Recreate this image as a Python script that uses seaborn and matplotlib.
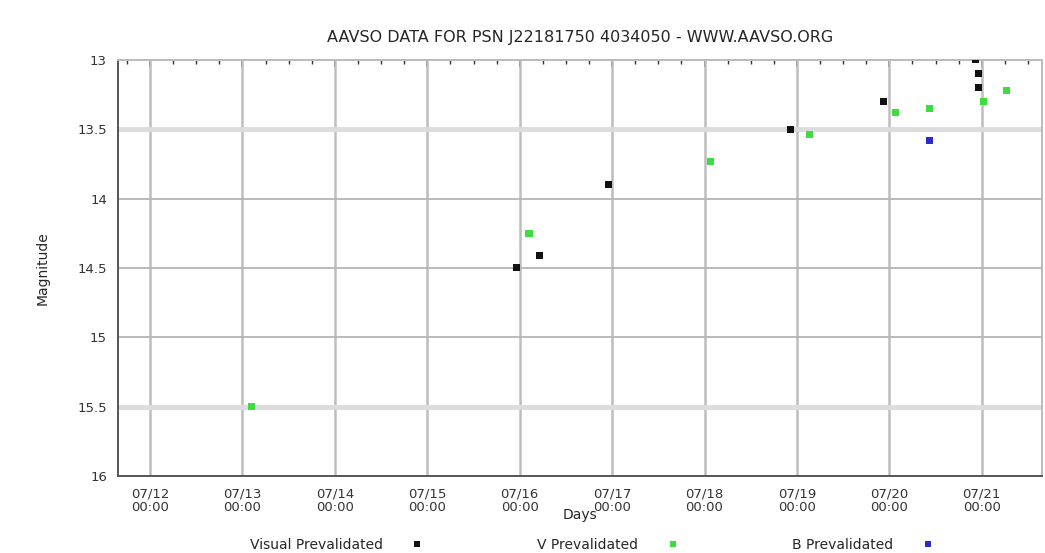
"""AAVSO light curve recreation (seaborn + matplotlib)."""
import matplotlib
matplotlib.use("Agg")
import matplotlib.pyplot as plt
import matplotlib.dates as mdates
import pandas as pd
import seaborn as sns

# observations: day of July (fractional) and magnitude
visual_day = [15.97, 16.21, 16.96, 18.93, 19.94, 20.93, 20.96, 20.96]
visual_mag = [14.50, 14.41, 13.90, 13.50, 13.30, 13.00, 13.10, 13.20]
v_day = [13.10, 16.10, 18.06, 19.14, 20.07, 20.43, 21.02, 21.27]
v_mag = [15.50, 14.25, 13.73, 13.54, 13.38, 13.35, 13.30, 13.22]
b_day = [20.43]
b_mag = [13.58]

bands = ["Visual Prevalidated", "V Prevalidated", "B Prevalidated"]
colors = ["#111111", "#3fdc3f", "#2b2bc8"]
tick_days = list(range(12, 22))
y_ticks = [13, 13.5, 14, 14.5, 15, 15.5, 16]
y_labels = ["13", "13.5", "14", "14.5", "15", "15.5", "16"]

base = pd.Timestamp("2013-07-01")


def to_time(days):
    return [base + pd.Timedelta(days=d - 1) for d in days]


df = pd.DataFrame({
    "time": to_time(visual_day) + to_time(v_day) + to_time(b_day),
    "mag": visual_mag + v_mag + b_mag,
    "band": [bands[0]] * len(visual_day) + [bands[1]] * len(v_day) + [bands[2]] * len(b_day),
})

sns.set_theme(style="white")
plt.rcParams["font.family"] = ["DejaVu Sans"]

fig = plt.figure(figsize=(10.45, 5.53), dpi=100)
ax = fig.add_axes([0.113, 0.139, 0.884, 0.753])

sns.scatterplot(data=df, x="time", y="mag", hue="band", hue_order=bands,
                palette=colors, marker="s", s=26, linewidth=0, ax=ax, zorder=3)

ax.set_xlim(base + pd.Timedelta(days=10.654), base + pd.Timedelta(days=20.65))
ax.set_ylim(16, 13)

# grid lines: vertical at each day, horizontal at the half magnitudes
ticks = to_time(tick_days)
ax.set_xticks(ticks)
ax.xaxis.set_major_formatter(mdates.DateFormatter("%m/%d\n%H:%M"))
ax.xaxis.set_minor_locator(mdates.HourLocator(byhour=[0, 6, 12, 18]))
for t in ticks:
    ax.axvline(t, color="#bdbdbd", lw=1.8, zorder=1)
ax.set_yticks(y_ticks)
ax.set_yticklabels(y_labels)
for y in y_ticks[1:-1]:
    if y in (13.5, 15.5):
        ax.axhline(y, color="#dcdcdc", lw=3.5, zorder=1)
    else:
        ax.axhline(y, color="#b5b5b5", lw=1.3, zorder=1)

ax.tick_params(axis="both", which="both", direction="in", labelsize=9.5,
               colors="#333333", top=True, right=False)
ax.tick_params(axis="x", which="major", length=5, width=1.2, pad=8)
ax.tick_params(axis="x", which="minor", length=3, width=1)
ax.tick_params(axis="y", which="major", length=5, width=1.2, pad=8)
for lab in ax.get_xticklabels():
    lab.set_linespacing(1.05)

for side in ["left", "bottom"]:
    ax.spines[side].set_color("#555555")
    ax.spines[side].set_linewidth(1.4)
for side in ["top", "right"]:
    ax.spines[side].set_color("#bbbbbb")
    ax.spines[side].set_linewidth(1.4)

ax.set_title("AAVSO DATA FOR PSN J22181750 4034050 - WWW.AAVSO.ORG",
             fontsize=11.5, pad=13)
ax.set_xlabel("Days", fontsize=10, labelpad=-4)
ax.set_ylabel("Magnitude", fontsize=10, labelpad=20)

ax.legend(loc="lower center", bbox_to_anchor=(0.57, -0.011),
          bbox_transform=fig.transFigure, ncol=3, frameon=False,
          markerfirst=False, fontsize=10, borderpad=0,
          handletextpad=1.5, columnspacing=7.6, markerscale=0.85)

fig.savefig("out.png", dpi=100)
plt.close(fig)
